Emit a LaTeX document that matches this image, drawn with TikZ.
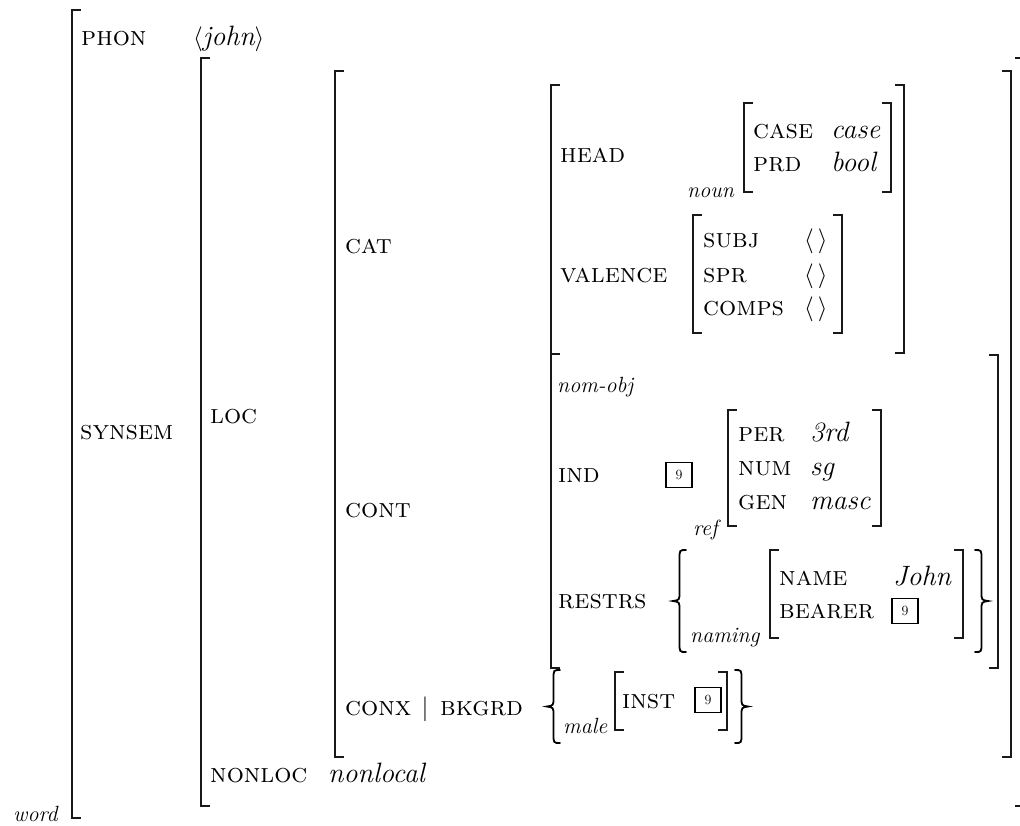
\documentclass[tikz,border=0pt]{standalone}
\tikzset{
  lbl/.style={anchor=base west, inner sep=0pt, font=\fontsize{27}{31}\selectfont\scshape},
  val/.style={anchor=base west, inner sep=0pt, font=\fontsize{28}{32}\selectfont\itshape},
  typ/.style={anchor=base west, inner sep=0pt, font=\fontsize{22}{26}\selectfont\itshape},
  tagbox/.style={draw, line width=1.8pt, minimum width=26pt, minimum height=25pt, inner sep=0pt, font=\fontsize{14}{14}\selectfont},
  brk/.style={line width=1.2pt, line cap=rect, black!90},
  brc/.style={line width=1.8pt, line cap=round},
}
\newcommand\avmL[3]{\draw[brk] (#1+8,#2) -- (#1,#2) -- (#1,#3) -- (#1+8,#3);}
\newcommand\avmR[3]{\draw[brk] (#1-8,#2) -- (#1,#2) -- (#1,#3) -- (#1-8,#3);}
\newcommand\avmLB[4]{%
  \pgfmathsetmacro\avmmid{(#3+#4)/2}\pgfmathsetmacro\avmx{(#1+#2)/2}%
  \draw[brc] (#2,#3) .. controls (\avmx,#3) .. (\avmx,#3+9) -- (\avmx,\avmmid-9)
    .. controls (\avmx,\avmmid-1) .. (#1,\avmmid)
    .. controls (\avmx,\avmmid+1) .. (\avmx,\avmmid+9) -- (\avmx,#4-9)
    .. controls (\avmx,#4) .. (#2,#4);}
\newcommand\avmRB[4]{%
  \pgfmathsetmacro\avmmid{(#3+#4)/2}\pgfmathsetmacro\avmx{(#1+#2)/2}%
  \draw[brc] (#1,#3) .. controls (\avmx,#3) .. (\avmx,#3+9) -- (\avmx,\avmmid-9)
    .. controls (\avmx,\avmmid-1) .. (#2,\avmmid)
    .. controls (\avmx,\avmmid+1) .. (\avmx,\avmmid+9) -- (\avmx,#4-9)
    .. controls (\avmx,#4) .. (#1,#4);}
\begin{document}
\begin{tikzpicture}[x=1pt,y=-1pt]
\useasboundingbox (0,0) rectangle (1020,825);
\clip (0,0) rectangle (1020,825);
% brackets
\avmL{72}{10}{818}
\avmR{1038}{10}{818}
\avmL{201}{58}{806}
\avmR{1024}{58}{806}
\avmL{335}{71}{757}
\avmR{1011}{71}{757}
\avmL{551}{85}{354}
\avmR{904}{85}{353}
\avmL{551}{354}{668}
\avmR{998}{355}{668}
\avmL{744}{103}{192}
\avmR{891}{103}{192}
\avmL{693}{215}{333}
\avmR{842}{215}{333}
\avmL{728}{410}{526}
\avmR{881}{410}{526}
\avmL{770}{550}{638}
\avmR{963}{550}{638}
\avmL{615}{672}{730}
\avmR{727}{672}{730}
% braces
\avmLB{673}{686}{550}{652}
\avmRB{975}{988}{550}{652}
\avmLB{547}{560}{670}{743}
\avmRB{735}{748}{670}{743}
% texts
\node[typ] (word) at (13,821) {word};
\node[lbl] (phon) at (81,45) {phon};
\node[val] (john) at (193,45) {$\langle$john$\rangle$};
\node[lbl] (synsem) at (80,439) {synsem};
\node[lbl] (loc) at (210,423) {loc};
\node[lbl] (cat) at (345,253) {cat};
\node[lbl] (head) at (560,162) {head};
\node[typ] (noun) at (687,197) {noun};
\node[lbl] (case) at (753,138) {case};
\node[val] (casev) at (831,138) {case};
\node[lbl] (prd) at (753,171) {prd};
\node[val] (bool) at (831,171) {bool};
\node[lbl] (valence) at (560,282) {valence};
\node[lbl] (subj) at (703,247) {subj};
\node[val] (subjv) at (804,247) {$\langle\,\rangle$};
\node[lbl] (spr) at (703,282) {spr};
\node[val] (sprv) at (804,282) {$\langle\,\rangle$};
\node[lbl] (comps) at (703,315) {comps};
\node[val] (compsv) at (804,315) {$\langle\,\rangle$};
\node[lbl] (cont) at (345,517) {cont};
\node[typ] (nomobj) at (557,392) {nom-obj};
\node[lbl] (ind) at (558,482) {ind};
\node[tagbox] (tagA) at (679,475) {9};
\node[typ] (ref) at (693,535) {ref};
\node[lbl] (per) at (738,441) {per};
\node[val] (perv) at (810,441) {3rd};
\node[lbl] (num) at (738,475) {num};
\node[val] (numv) at (810,475) {sg};
\node[lbl] (gen) at (738,509) {gen};
\node[val] (genv) at (810,509) {masc};
\node[lbl] (restrs) at (558,608) {restrs};
\node[typ] (naming) at (690,642) {naming};
\node[lbl] (name) at (779,585) {name};
\node[val] (namev) at (893,585) {John};
\node[lbl] (bearer) at (779,618) {bearer};
\node[tagbox] (tagB) at (905,611) {9};
\node[lbl] (conx) at (345,715) {conx};
\node[anchor=base, inner sep=0pt, font=\fontsize{27}{31}\selectfont] (bar) at (425,715) {$|$};
\node[lbl] (bkgrd) at (440,715) {bkgrd};
\node[typ] (male) at (563,733) {male};
\node[lbl] (inst) at (622,708) {inst};
\node[tagbox] (tagC) at (708,700) {9};
\node[lbl] (nonloc) at (210,782) {nonloc};
\node[val] (nonlocal) at (328,782) {nonlocal};
\end{tikzpicture}
\end{document}
